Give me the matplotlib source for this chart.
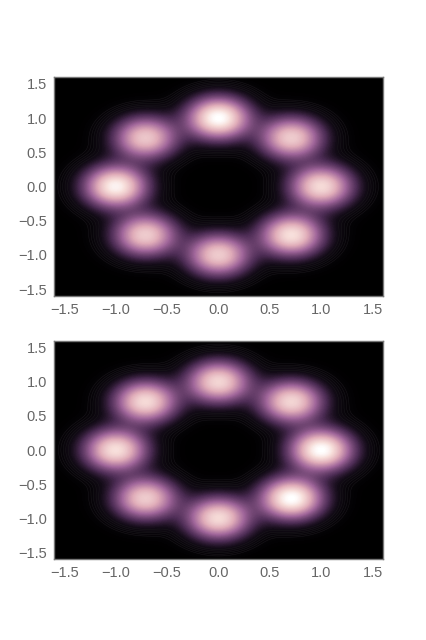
import numpy as np
import matplotlib
matplotlib.use('Agg')
import matplotlib.pyplot as plt
from matplotlib.colors import LinearSegmentedColormap

# lobe centres and heights
center_x = [1.0, 0.71, 0.0, -0.71, -1.0, -0.71, 0.0, 0.71]
center_y = [0.0, 0.71, 1.0, 0.71, 0.0, -0.71, -1.0, -0.71]
heights_top = [0.86, 0.8, 1.0, 0.78, 0.95, 0.8, 0.8, 0.88]
heights_bottom = [1.0, 0.84, 0.84, 0.86, 0.88, 0.8, 0.86, 1.0]
lobe_sigma = 0.205

ticks = [-1.5, -1.0, -0.5, 0.0, 0.5, 1.0, 1.5]
line_levels = [0.022, 0.03, 0.04, 0.053, 0.07]

plt.rcParams['font.family'] = ['Liberation Sans', 'DejaVu Sans']

cmap = LinearSegmentedColormap.from_list('lobes', [
    (0.0, '#000000'), (0.09, '#130b17'), (0.22, '#4d2c55'), (0.45, '#a0669a'),
    (0.68, '#dfabb8'), (0.87, '#f6dcd8'), (1.0, '#ffffff')])


def density(xx, yy, heights):
    zz = np.zeros_like(xx)
    for cx, cy, h in zip(center_x, center_y, heights):
        zz += h * np.exp(-((xx - cx) ** 2 + (yy - cy) ** 2) / (2 * lobe_sigma ** 2))
    return zz


fig = plt.figure(figsize=(4.27, 6.4), dpi=100)
ax1 = fig.add_axes([54 / 427, 1 - 296 / 640, 329 / 427, 219 / 640])
ax2 = fig.add_axes([54 / 427, 1 - 559 / 640, 329 / 427, 218 / 640])

x = np.linspace(-1.6, 1.6, 300)
y = np.linspace(-1.6, 1.6, 300)
xx, yy = np.meshgrid(x, y)

for ax, heights in [(ax1, heights_top), (ax2, heights_bottom)]:
    zz = density(xx, yy, heights)
    ax.set_facecolor('black')
    ax.contourf(xx, yy, zz, levels=np.linspace(0, zz.max(), 200), cmap=cmap)
    ax.contour(xx, yy, zz, levels=line_levels, colors='#1a181c', linewidths=0.35)
    ax.set_xlim(-1.6, 1.6)
    ax.set_ylim(-1.6, 1.6)
    ax.set_xticks(ticks)
    ax.set_yticks(ticks)
    ax.tick_params(length=0, pad=5, labelsize=10.5, colors='#666666')
    for s in ax.spines.values():
        s.set_color('#777777')
        s.set_linewidth(1.0)

fig.savefig('out.png', dpi=100)
